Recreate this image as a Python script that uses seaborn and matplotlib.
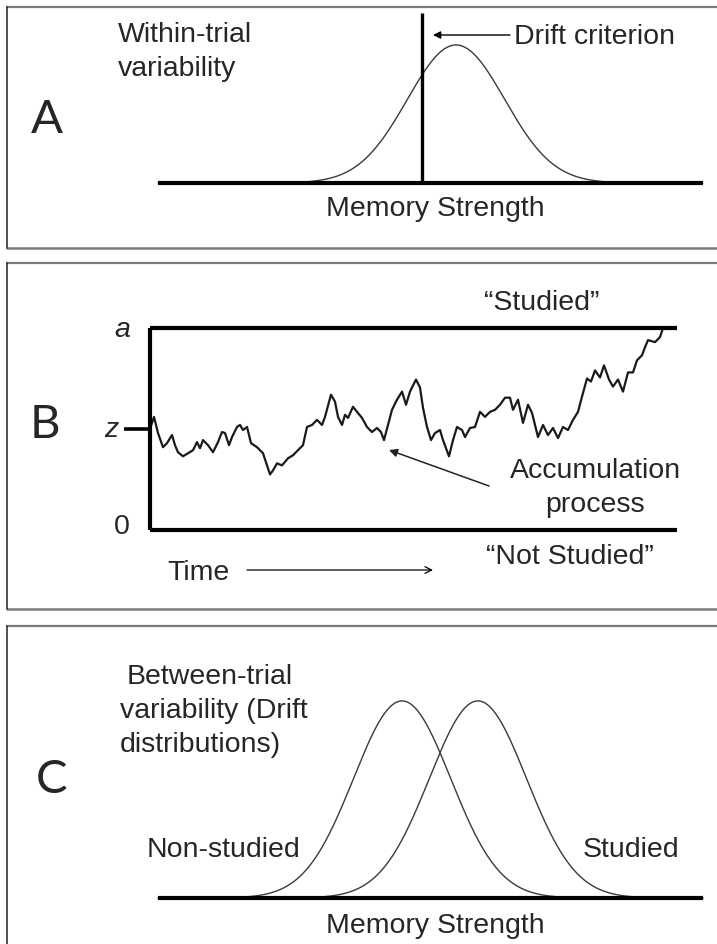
import numpy as np
import pandas as pd
import matplotlib
matplotlib.use("Agg")
import matplotlib.pyplot as plt
from matplotlib.lines import Line2D
from matplotlib.transforms import Affine2D
import seaborn as sns

sns.set_theme(style="white")
plt.rcParams["font.family"] = ["Liberation Sans", "DejaVu Sans"]

# ---- Panel A: within-trial variability around one drift value ----
strength_mean_a = 0.7
strength_sd_a = 1.0
drift_criterion = 0.0
strength_range_a = [-5.43, 5.78]

# ---- Panel B: diffusion path between the two boundaries ----
boundary_a = 2.0
start_z = 1.0
time_end = 527
walk_time = [0, 4, 8, 13, 17, 22, 25, 28, 33, 38, 43, 47, 50, 53, 58, 63, 68, 72, 75, 79,
             82, 87, 90, 93, 97, 101, 107, 113, 117, 120, 123, 127, 132, 138, 143, 148, 153,
             157, 162, 167, 172, 175,
             181, 185, 188, 192, 195, 198, 203, 207, 212, 217, 222, 227, 231, 234, 238, 242,
             247, 252, 256, 260, 266, 270, 273, 277, 281, 285, 290, 293, 299, 303, 307, 312,
             315, 320, 325, 330, 335, 340, 345, 350, 355,
             360, 363, 368, 373, 378, 382, 385, 388, 393, 398, 403, 408, 413, 418, 423, 428,
             432, 437, 441, 445, 450, 454, 459, 463, 468, 473, 478, 483, 487, 492, 495, 498,
             505, 510, 513]
walk_evidence = [1.00, 1.12, 0.96, 0.82, 0.86, 0.94, 0.84, 0.77, 0.73, 0.76, 0.79, 0.87, 0.81,
                 0.89, 0.84, 0.77, 0.87, 0.97, 0.96, 0.84, 0.92, 1.02, 1.04, 0.99, 1.02, 0.86,
                 0.82, 0.76, 0.64, 0.55, 0.59, 0.66, 0.64, 0.71, 0.74, 0.79, 0.84, 1.02, 1.04,
                 1.09, 1.04, 1.12,
                 1.34, 1.27, 1.12, 1.04, 1.14, 1.11, 1.22, 1.17, 1.11, 1.02, 0.97, 1.01, 0.97,
                 0.89, 1.04, 1.19, 1.29, 1.37, 1.24, 1.37, 1.49, 1.41, 1.21, 1.02, 0.89, 0.96,
                 0.99, 0.89, 0.73, 0.89, 1.02, 0.99, 0.92, 1.01, 1.02, 1.17, 1.12, 1.17, 1.19,
                 1.24, 1.31,
                 1.31, 1.19, 1.29, 1.06, 1.24, 1.16, 1.04, 0.92, 1.04, 0.94, 1.01, 0.91, 1.02,
                 0.99, 1.09, 1.17, 1.32, 1.50, 1.47, 1.58, 1.51, 1.63, 1.49, 1.42, 1.49, 1.37,
                 1.56, 1.56, 1.68, 1.73, 1.81, 1.88, 1.86, 1.91, 2.00]

# ---- Panel C: between-trial drift distributions ----
cond_labels = ["Non-studied", "Studied"]
cond_means = [-0.78, 0.78]
cond_sd = 1.0
strength_range_c = [-5.80, 5.41]

W, H = 717, 944
fig = plt.figure(figsize=(W / 100, H / 100), dpi=100)
fig.patch.set_facecolor("white")
# top-left-origin pixel coordinates for labels and frames
PX = Affine2D().scale(1 / W, -1 / H).translate(0, 1) + fig.transFigure

TXT = 20.5
LETTER = dict(fontsize=34, family=["Lato", "DejaVu Sans"], ha="center", va="center")
CURVE = dict(color="#3a3a3a", lw=1.0)


def panel_axes(top, bottom, x0_px, x_scale, y0_px, y_scale):
    ax = fig.add_axes([0, 1 - bottom / H, 1, (bottom - top) / H])
    ax.set_xlim(-x0_px / x_scale, (W - x0_px) / x_scale)
    ax.set_ylim(-(bottom - y0_px) / y_scale, (y0_px - top) / y_scale)
    ax.axis("off")
    ax.patch.set_alpha(0)
    return ax


def frame(top, bottom):
    fig.add_artist(Line2D([7, W + 5], [top, top], transform=PX, color="#7a7a7a", lw=1.6))
    if bottom is not None:
        fig.add_artist(Line2D([7, W + 5], [bottom, bottom], transform=PX, color="#7a7a7a", lw=1.8))
    fig.add_artist(Line2D([7, 7], [top, bottom if bottom is not None else H + 5],
                          transform=PX, color="#222222", lw=1.1))


def label(x, y, s, **kw):
    opts = dict(fontsize=TXT, ha="left", va="baseline")
    opts.update(kw)
    fig.text(x, y, s, transform=PX, **opts)


def gauss(x, m, s):
    return np.exp(-0.5 * ((x - m) / s) ** 2) / (s * np.sqrt(2 * np.pi))


# ================= Panel A =================
frame(7, 248)
axA = panel_axes(0, 255, 422, 48.6, 183, 346)
xa = np.linspace(*strength_range_a, 600)
sns.lineplot(x=xa, y=gauss(xa, strength_mean_a, strength_sd_a), ax=axA, **CURVE)
axA.hlines(0, *strength_range_a, color="black", lw=3)
axA.vlines(drift_criterion, 0, (183 - 13) / 346, color="black", lw=2.4)

label(47, 120, "A", **LETTER)
label(118, 42, "Within-trial")
label(118, 76, "variability")
label(514, 44, "Drift criterion")
fig.add_artist(matplotlib.patches.FancyArrowPatch(
    (510, 35), (433, 35), transform=PX, arrowstyle="-|>", mutation_scale=11,
    lw=1.0, color="black", shrinkA=0, shrinkB=0))
label(435, 216, "Memory Strength", ha="center")

# ================= Panel B =================
frame(263, 609)
axB = panel_axes(255, 615, 150, 1.0, 530, 101)
walk = pd.DataFrame({"time": walk_time, "evidence": walk_evidence})
sns.lineplot(data=walk, x="time", y="evidence", ax=axB, color="#1a1a1a", lw=1.6,
             estimator=None, sort=False)
axB.hlines([0, boundary_a], 0, time_end, color="black", lw=3)
axB.vlines(0, 0, boundary_a, color="black", lw=3)
axB.hlines(start_z, -26, 0, color="black", lw=2.6)

label(45, 425, "B", **LETTER)
label(122, 337, "a", ha="center", style="italic")
label(111, 437, "z", ha="center", style="italic")
label(122, 534, "0", ha="center")
label(542, 310, "\u201cStudied\u201d", ha="center")
label(570, 564, "\u201cNot Studied\u201d", ha="center")
label(167, 580, "Time")
fig.add_artist(matplotlib.patches.FancyArrowPatch(
    (247, 570), (433, 570), transform=PX, arrowstyle="->", mutation_scale=12,
    lw=0.9, color="black", shrinkA=0, shrinkB=0))
label(595, 478, "Accumulation", ha="center")
label(595, 512, "process", ha="center")
fig.add_artist(matplotlib.patches.FancyArrowPatch(
    (489, 486), (389, 450), transform=PX, arrowstyle="-|>", mutation_scale=12,
    lw=1.1, color="#222222", shrinkA=0, shrinkB=0))

# ================= Panel C =================
frame(626, None)
axC = panel_axes(615, H, 440, 48.6, 898, 494)
xc = np.linspace(*strength_range_c, 600)
for m in cond_means:
    sns.lineplot(x=xc, y=gauss(xc, m, cond_sd), ax=axC, **CURVE)
axC.hlines(0, *strength_range_c, color="black", lw=3)

label(52, 780, "C", **LETTER)
label(127, 684, "Between-trial")
label(120, 718, "variability (Drift")
label(120, 752, "distributions)")
label(147, 857, cond_labels[0])
label(583, 857, cond_labels[1])
label(435, 933, "Memory Strength", ha="center")

fig.savefig("out.png", dpi=100, facecolor="white")
